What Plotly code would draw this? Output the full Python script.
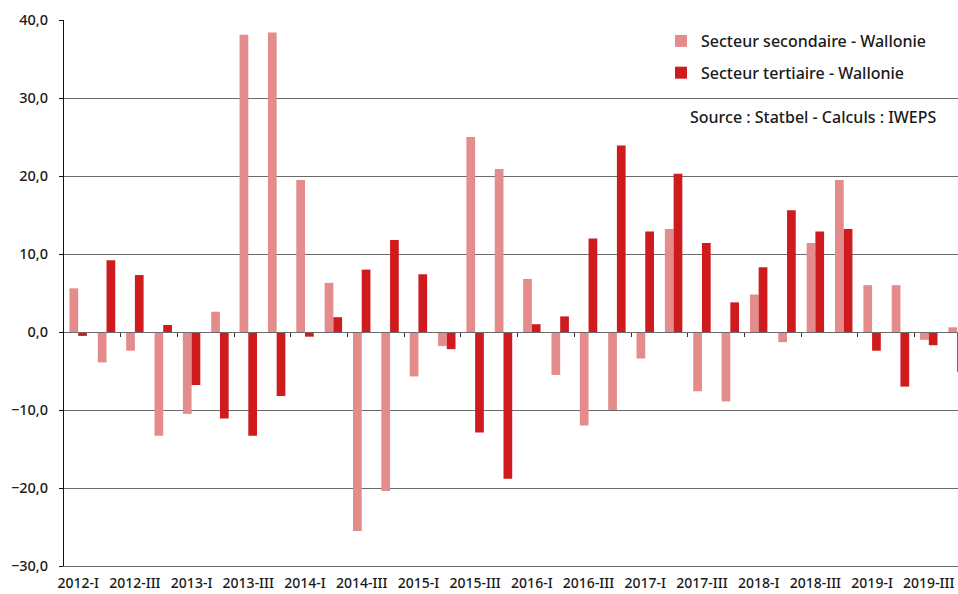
import plotly.graph_objects as go

quarters = [f"{y}-{q}" for y in range(2012, 2020) for q in ["I", "II", "III", "IV"]]

secondaire = [5.6, -3.9, -2.4, -13.3, -10.5, 2.6, 38.1, 38.4,
              19.5, 6.3, -25.5, -20.4, -5.7, -1.8, 25.0, 20.9,
              6.8, -5.5, -12.0, -10.0, -3.4, 13.2, -7.6, -8.9,
              4.8, -1.3, 11.4, 19.5, 6.0, 6.0, -1.0, 0.6]

tertiaire = [-0.5, 9.2, 7.3, 0.9, -6.8, -11.1, -13.3, -8.2,
             -0.6, 1.9, 8.0, 11.8, 7.4, -2.2, -12.9, -18.8,
             1.0, 2.0, 12.0, 23.9, 12.9, 20.3, 11.4, 3.8,
             8.3, 15.6, 12.9, 13.2, -2.4, -7.0, -1.7, -5.1]

tick_labels = quarters[::2]
y_ticks = [-30, -20, -10, 0, 10, 20, 30, 40]

FONT = "Noto Sans"
TXT = "#1a1a1a"
GRID = "#6a6a6a"
LIGHT = "#E48B8C"
DARK = "#CF1A1E"

fig = go.Figure()
fig.add_trace(go.Bar(x=quarters, y=secondaire, name="Secteur secondaire - Wallonie",
                     marker=dict(color=LIGHT, line=dict(width=0)), legendgroup="a"))
fig.add_trace(go.Bar(x=quarters, y=tertiaire, name="Secteur tertiaire - Wallonie",
                     marker=dict(color=DARK, line=dict(width=0)), legendgroup="b"))

n = len(quarters)
boundary_ticks = [i + 0.5 for i in range(1, n, 2)]
# invisible helper trace so the zero-level tick axis is drawn
fig.add_trace(go.Scatter(x=[0], y=[0], xaxis="x2", mode="markers",
                         marker=dict(opacity=0), showlegend=False, hoverinfo="skip"))

x_range = [-0.5, 31.03]
fig.update_layout(
    width=958, height=594,
    margin=dict(l=64, r=0, t=20, b=28, autoexpand=False),
    paper_bgcolor="white", plot_bgcolor="white",
    separators=", ",
    barmode="group", bargap=0.385, bargroupgap=0,
    font=dict(family=FONT, size=14, color=TXT, weight=500),
    xaxis=dict(type="category", range=x_range, tickmode="array", tickvals=tick_labels,
               ticktext=tick_labels, showgrid=False, ticks="", showline=True,
               linecolor=GRID, linewidth=1, tickfont=dict(size=14, weight=500),
               ticklabelstandoff=4, automargin=False),
    xaxis2=dict(overlaying="x", anchor="free", position=3/7, range=x_range,
                tickmode="array", tickvals=boundary_ticks, ticks="outside", ticklen=4,
                tickcolor="#333333", showticklabels=False, showgrid=False, showline=True,
                linecolor=GRID, linewidth=1.2, zeroline=False, automargin=False),
    yaxis=dict(range=[-30, 40], tickmode="array", tickvals=y_ticks, tickformat=".1f",
               showgrid=True, gridcolor=GRID, gridwidth=1, zeroline=False,
               showline=True, linecolor="#111111", linewidth=1,
               ticks="outside", ticklen=4, tickcolor="#111111",
               tickfont=dict(size=14.5, weight=500), ticklabelstandoff=8, automargin=False),
    legend=dict(x=(661 - 64) / 894, xanchor="left", y=1 - (4 / 546), yanchor="top",
                bgcolor="rgba(0,0,0,0)", font=dict(size=16, color=TXT, weight=500),
                traceorder="grouped", tracegroupgap=8, itemwidth=30),
    showlegend=True,
)

fig.add_annotation(text="Source : Statbel - Calculs : IWEPS", xref="paper", yref="paper",
                   x=(688 - 64) / 894, xanchor="left", y=1 - (117 - 20) / 546, yanchor="middle",
                   showarrow=False, font=dict(size=16, color=TXT, weight=500))

fig.write_html("out.html", config={"displayModeBar": False},
               post_script="document.body.style.margin='0';document.body.style.overflow='hidden';")
